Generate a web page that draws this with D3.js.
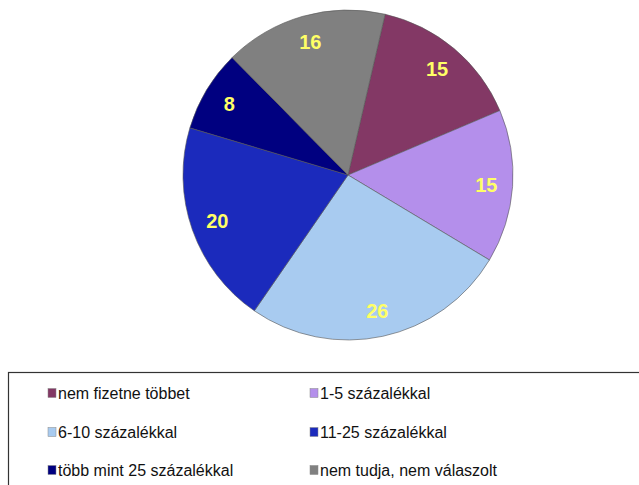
<!DOCTYPE html>
<html>
<head>
<meta charset="utf-8">
<script src="https://d3js.org/d3.v7.min.js"></script>
<style>
  body { margin: 0; background: #fff; }
  svg { display: block; font-family: "Liberation Sans", Arial, sans-serif; }
</style>
</head>
<body>
<div id="chart"></div>
<script>
// categories and values
var categories = ["nem fizetne többet", "1-5 százalékkal", "6-10 százalékkal",
                  "11-25 százalékkal", "több mint 25 százalékkal", "nem tudja, nem válaszolt"];
var values = [15, 15, 26, 20, 8, 16];
var colors = ["#833865", "#B48FEB", "#A8CBF0", "#1B2ABC", "#000080", "#808080"];

var width = 639, height = 485;
var cx = 348, cy = 175, radius = 165;
var startDeg = 13;

var svg = d3.select("#chart").append("svg")
  .attr("width", width)
  .attr("height", height);

var data = categories.map(function(c, i) { return {name: c, value: values[i], color: colors[i]}; });

var pie = d3.pie()
  .sort(null)
  .value(function(d) { return d.value; })
  .startAngle(startDeg * Math.PI / 180)
  .endAngle((startDeg + 360) * Math.PI / 180);

var arc = d3.arc().innerRadius(0).outerRadius(radius);
var labelArc = d3.arc().innerRadius(radius * 0.84).outerRadius(radius * 0.84);

var g = svg.append("g").attr("transform", "translate(" + cx + "," + cy + ")");

g.selectAll("path.slice")
  .data(pie(data))
  .enter()
  .append("path")
  .attr("class", "slice")
  .attr("d", arc)
  .attr("fill", function(d) { return d.data.color; })
  .attr("stroke", "#555")
  .attr("stroke-width", 0.6);

g.selectAll("text.lbl")
  .data(pie(data))
  .enter()
  .append("text")
  .attr("class", "lbl")
  .attr("transform", function(d) { return "translate(" + labelArc.centroid(d) + ")"; })
  .attr("text-anchor", "middle")
  .attr("dy", "0.36em")
  .attr("fill", "#FFFF66")
  .style("font-size", "20px")
  .style("font-weight", "bold")
  .text(function(d) { return d.data.value; });

// legend box
svg.append("rect")
  .attr("x", 8.5)
  .attr("y", 372.5)
  .attr("width", 640)
  .attr("height", 120)
  .attr("fill", "#fff")
  .attr("stroke", "#333")
  .attr("stroke-width", 1.2);

var colX = [48, 310];
var rowY = [393, 432, 470];

var leg = svg.selectAll("g.leg")
  .data(data)
  .enter()
  .append("g")
  .attr("class", "leg")
  .attr("transform", function(d, i) {
    return "translate(" + colX[i % 2] + "," + rowY[Math.floor(i / 2)] + ")";
  });

leg.append("rect")
  .attr("x", 0)
  .attr("y", -4.5)
  .attr("width", 8)
  .attr("height", 9)
  .attr("fill", function(d) { return d.color; })
  .attr("stroke", "#888")
  .attr("stroke-width", 0.5);

leg.append("text")
  .attr("x", 10)
  .attr("dy", "0.36em")
  .style("font-size", "16px")
  .attr("fill", "#111")
  .text(function(d) { return d.name; });
</script>
</body>
</html>
